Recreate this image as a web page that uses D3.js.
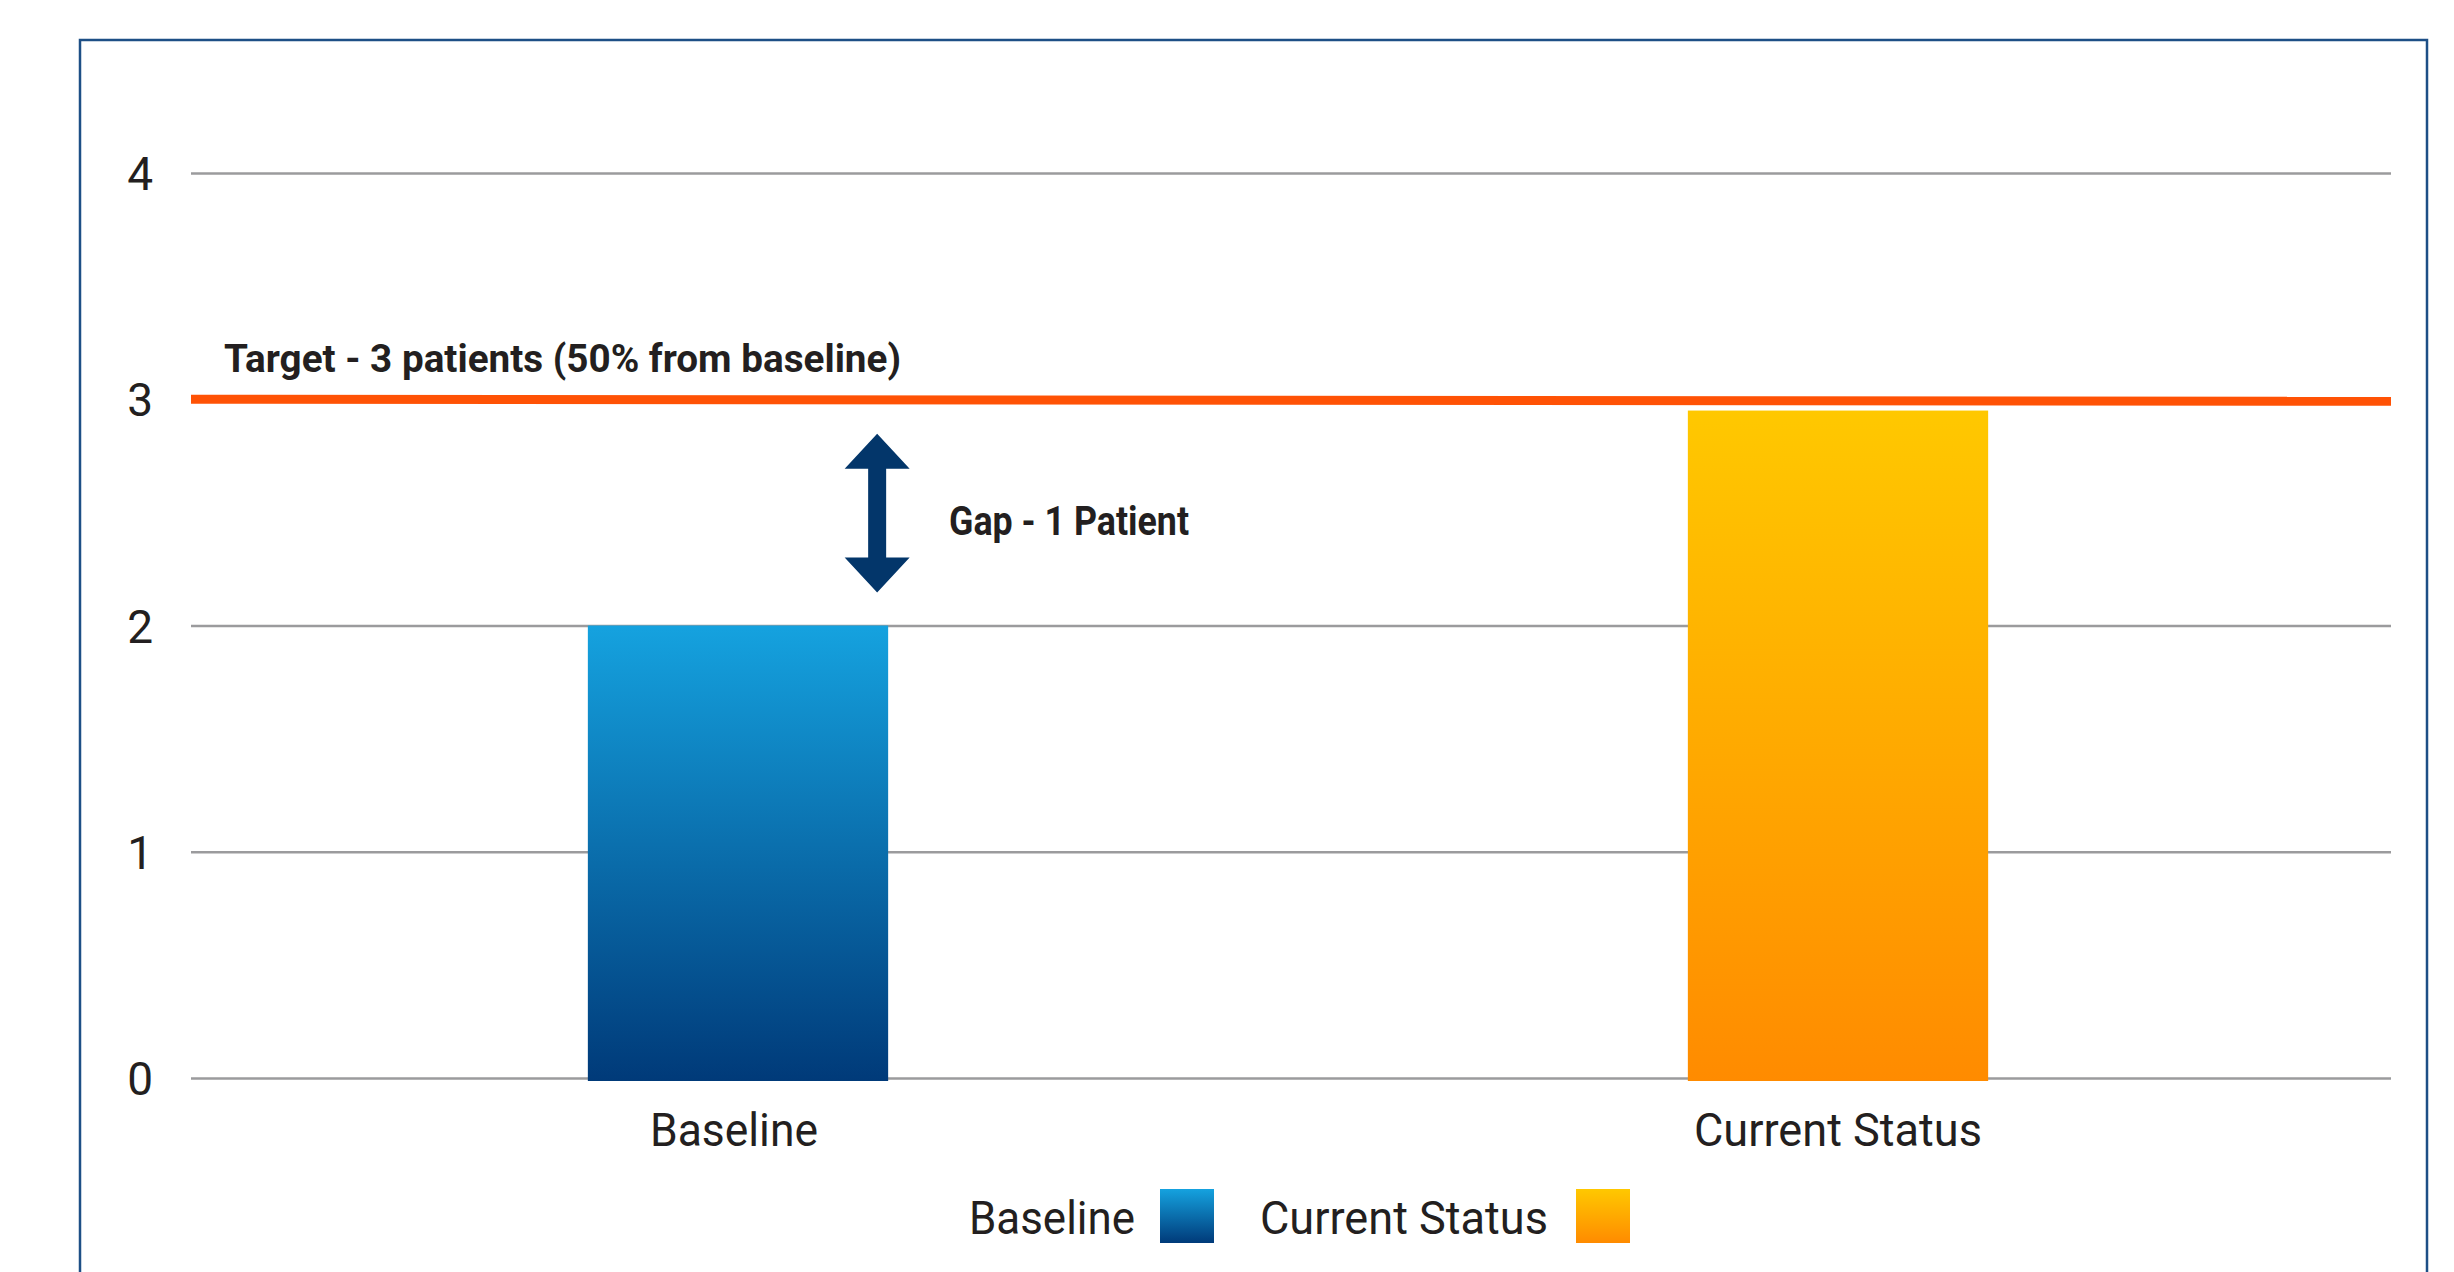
<!DOCTYPE html>
<html>
<head>
<meta charset="utf-8">
<script src="https://cdn.jsdelivr.net/npm/d3@7"></script>
<style>
  html, body { margin: 0; padding: 0; background: #ffffff; }
  svg { display: block; }
</style>
</head>
<body>
<script>
// ---- Data ----
const categories = ["Baseline", "Current Status"];
const values = [2, 2.95];
const yTicks = [0, 1, 2, 3, 4];
const targetValue = 3;
const targetLabel = "Target - 3 patients (50% from baseline)";
const gapLabel = "Gap - 1 Patient";
const legendLabels = ["Baseline", "Current Status"];

// ---- Layout ----
const W = 2454, H = 1272;
const plotLeft = 191, plotRight = 2391, plotTop = 173, plotBottom = 1078;
const textColor = "#231f20";
const font = "Roboto, 'Open Sans', sans-serif";

const svg = d3.select("body").append("svg")
  .attr("width", W).attr("height", H);

const defs = svg.append("defs");
function grad(id, top, bottom) {
  const g = defs.append("linearGradient").attr("id", id)
    .attr("x1", 0).attr("y1", 0).attr("x2", 0).attr("y2", 1);
  g.append("stop").attr("offset", "0%").attr("stop-color", top);
  g.append("stop").attr("offset", "100%").attr("stop-color", bottom);
}
grad("gBlue", "#15a2df", "#003a79");
grad("gOrange", "#ffc800", "#ff8b00");
const fills = ["url(#gBlue)", "url(#gOrange)"];

// Frame
svg.append("rect")
  .attr("x", 80).attr("y", 40).attr("width", 2347).attr("height", 1300)
  .attr("fill", "none").attr("stroke", "#1d4f86").attr("stroke-width", 2.5);

const y = d3.scaleLinear().domain([0, 4]).range([plotBottom, plotTop]);
const x = d3.scaleBand().domain(categories).range([plotLeft - 3, plotRight - 3])
  .paddingInner(0.727).paddingOuter(0.3635);

// Y axis with gridlines
const yAxis = svg.append("g")
  .attr("transform", `translate(${plotLeft},0)`)
  .call(d3.axisLeft(y).tickValues(yTicks).tickFormat(d3.format("d"))
    .tickSize(-(plotRight - plotLeft)).tickPadding(38));
yAxis.select(".domain").remove();
yAxis.selectAll(".tick line").attr("stroke", "#9b9b9d").attr("stroke-width", 2.5);
yAxis.selectAll(".tick text")
  .attr("fill", textColor).attr("font-family", font)
  .attr("font-size", 46).attr("font-weight", 400).attr("dy", "0.36em");

// Bars
svg.append("g").selectAll("rect").data(values).join("rect")
  .attr("x", (d, i) => x(categories[i]))
  .attr("width", x.bandwidth())
  .attr("y", d => y(d))
  .attr("height", d => y(0) - y(d) + 3)
  .attr("fill", (d, i) => fills[i]);

// X axis labels
const xAxis = svg.append("g")
  .attr("transform", `translate(0,${plotBottom})`)
  .call(d3.axisBottom(x).tickSize(0).tickPadding(35));
xAxis.select(".domain").remove();
xAxis.selectAll(".tick text")
  .attr("fill", textColor).attr("font-family", font)
  .attr("font-size", 46).attr("font-weight", 400)
  .attr("dx", d => d === "Baseline" ? -4 : 0)
  .attr("textLength", (d) => d === "Baseline" ? 168 : 288)
  .attr("lengthAdjust", "spacingAndGlyphs");

// Target line
svg.append("line")
  .attr("x1", plotLeft).attr("x2", plotRight)
  .attr("y1", y(targetValue)).attr("y2", y(targetValue) + 2)
  .attr("stroke", "#ff5205").attr("stroke-width", 9);

svg.append("text")
  .attr("x", 224).attr("y", y(targetValue) - 27)
  .attr("font-family", font).attr("font-weight", 700).attr("font-size", 38)
  .attr("fill", textColor)
  .attr("textLength", 677).attr("lengthAdjust", "spacingAndGlyphs")
  .text(targetLabel);

// Gap arrow between target and baseline value
const ax = x(categories[0]) + x.bandwidth() - 11;
const yTopTip = y(targetValue) + 34.5;
const yBotTip = y(values[0]) - 33;
const headH = 35, headHalf = 32.5, shaftHalf = 9;
const arrowPts = [
  [ax, yTopTip],
  [ax + headHalf, yTopTip + headH],
  [ax + shaftHalf, yTopTip + headH],
  [ax + shaftHalf, yBotTip - headH],
  [ax + headHalf, yBotTip - headH],
  [ax, yBotTip],
  [ax - headHalf, yBotTip - headH],
  [ax - shaftHalf, yBotTip - headH],
  [ax - shaftHalf, yTopTip + headH],
  [ax - headHalf, yTopTip + headH]
];
svg.append("path")
  .attr("d", d3.line()(arrowPts) + "Z")
  .attr("fill", "#03366a");

svg.append("text")
  .attr("x", 949).attr("y", 535)
  .attr("font-family", font).attr("font-weight", 700).attr("font-size", 40)
  .attr("fill", textColor)
  .attr("textLength", 240).attr("lengthAdjust", "spacingAndGlyphs")
  .text(gapLabel);

// Legend
const legendLayout = [
  { tx: 969, tw: 166, sx: 1160 },
  { tx: 1260, tw: 288, sx: 1576 }
];
const leg = svg.append("g").selectAll("g").data(legendLabels).join("g");
leg.append("text")
  .attr("x", (d, i) => legendLayout[i].tx).attr("y", 1234)
  .attr("font-family", font).attr("font-size", 46).attr("font-weight", 400)
  .attr("fill", textColor)
  .attr("textLength", (d, i) => legendLayout[i].tw)
  .attr("lengthAdjust", "spacingAndGlyphs")
  .text(d => d);
leg.append("rect")
  .attr("x", (d, i) => legendLayout[i].sx).attr("y", 1189)
  .attr("width", 54).attr("height", 54)
  .attr("fill", (d, i) => fills[i]);
</script>
</body>
</html>
